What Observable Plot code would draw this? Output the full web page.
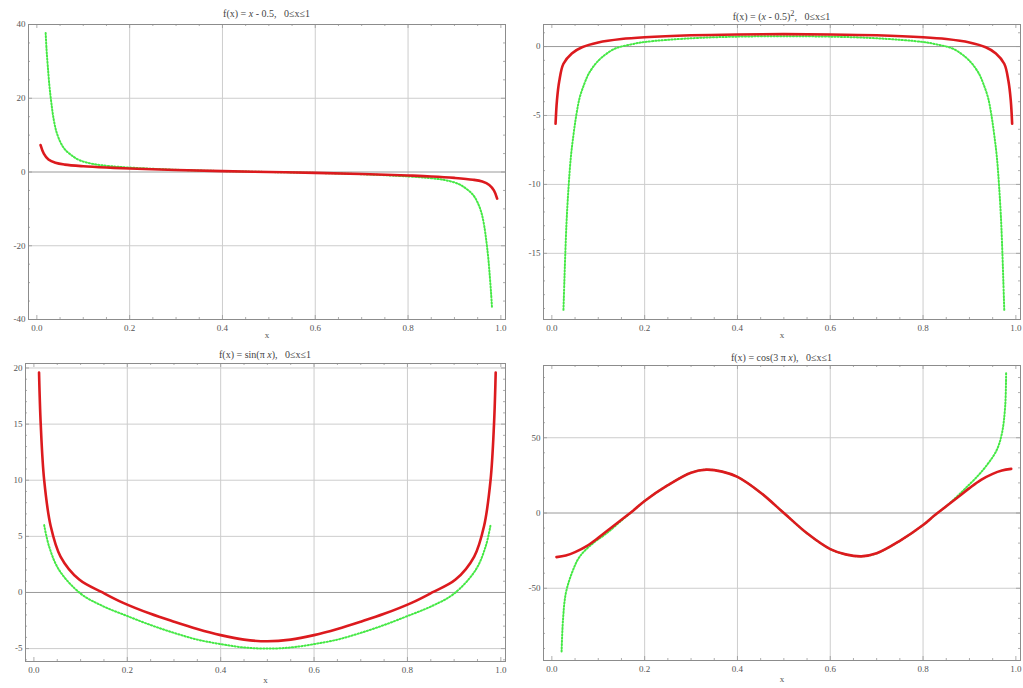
<!DOCTYPE html>
<html><head><meta charset="utf-8">
<script src="https://cdn.jsdelivr.net/npm/d3@7"></script>
<script src="https://cdn.jsdelivr.net/npm/@observablehq/plot@0.6"></script>
<style>
body{margin:0;background:#fff;}
#wrap{position:relative;width:1023px;height:688px;overflow:hidden;}
.panel{position:absolute;}
#wrap svg, #wrap svg text{font-family:"Liberation Serif",serif !important;}
.title{position:absolute;font-family:"Liberation Serif",serif;font-size:10px;color:#444;text-align:center;white-space:pre;line-height:10px;}
</style>
</head><body><div id="wrap"></div>
<script>
// ---- shared axis values ----
const xTicks = [0, 0.2, 0.4, 0.6, 0.8, 1.0];
const xGridLines = [0.2, 0.4, 0.6, 0.8];
const xMinorTicks = [0.05,0.1,0.15,0.25,0.3,0.35,0.45,0.5,0.55,0.65,0.7,0.75,0.85,0.9,0.95];

// ---- panel 1: f(x) = x - 0.5 ----
const p1Title = "f(x) = <i>x</i> - 0.5,   0≤x≤1";
const p1YTicks = [-40, -20, 0, 20, 40];
const p1YMinor = [-35,-30,-25,-15,-10,-5,5,10,15,25,30,35];
const p1RedX = [0.008,0.015,0.025,0.04,0.06,0.1,0.15,0.2,0.3,0.4,0.5,0.6,0.7,0.8,0.85,0.9,0.94,0.96,0.975,0.985,0.992];
const p1RedY = [7.3,5.0,3.4,2.5,2.0,1.55,1.2,0.95,0.55,0.25,0,-0.25,-0.55,-0.95,-1.2,-1.6,-2.1,-2.6,-3.5,-5.0,-7.2];
const p1GreenX = [0.019,0.021,0.024,0.027,0.031,0.036,0.042,0.05,0.06,0.075,0.092,0.12,0.157,0.2,0.3,0.4,0.5,0.6,0.7,0.8,0.843,0.88,0.908,0.925,0.94,0.95,0.958,0.964,0.969,0.973,0.976,0.979,0.981];
const p1GreenY = [37.7,33,28,23.5,19,14.5,11,8.3,6.2,4.5,3.2,2.2,1.6,1.2,0.6,0.25,0,-0.25,-0.6,-1.2,-1.6,-2.2,-3.2,-4.5,-6.2,-8.3,-11,-14.5,-19,-23.5,-28,-33,-37];

// ---- panel 2: f(x) = (x - 0.5)^2 ----
const p2Title = "f(x) = (<i>x</i> - 0.5)<sup>2</sup>,   0≤x≤1";
const p2YTicks = [-15, -10, -5, 0];
const p2YMinor = [-19,-18,-17,-16,-14,-13,-12,-11,-9,-8,-7,-6,-4,-3,-2,-1,1];
const p2RedX = [0.008,0.011,0.016,0.025,0.043,0.065,0.1,0.15,0.2,0.3,0.4,0.5,0.6,0.7,0.8,0.85,0.9,0.935,0.957,0.975,0.984,0.989,0.992];
const p2RedY = [-5.6,-3.9,-2.5,-1.25,-0.5,-0.05,0.3,0.55,0.68,0.82,0.88,0.9,0.88,0.82,0.68,0.55,0.3,-0.05,-0.5,-1.25,-2.5,-3.9,-5.6];
const p2GreenX = [0.025,0.027,0.029,0.032,0.036,0.041,0.047,0.053,0.06,0.07,0.079,0.093,0.108,0.136,0.17,0.2,0.3,0.4,0.5,0.6,0.7,0.8,0.83,0.864,0.892,0.907,0.921,0.93,0.94,0.947,0.953,0.959,0.964,0.968,0.971,0.973,0.975];
const p2GreenY = [-19.1,-17,-15,-12.5,-10.2,-8,-6.3,-4.9,-3.7,-2.7,-2.0,-1.3,-0.78,-0.15,0.15,0.33,0.6,0.72,0.75,0.72,0.6,0.33,0.15,-0.15,-0.78,-1.3,-2.0,-2.7,-3.7,-4.9,-6.3,-8,-10.2,-12.5,-15,-17,-19.1];

// ---- panel 3: f(x) = sin(pi x) ----
const p3Title = "f(x) = sin(π <i>x</i>),   0≤x≤1";
const p3YTicks = [-5, 0, 5, 10, 15, 20];
const p3YMinor = [-6,-4,-3,-2,-1,1,2,3,4,6,7,8,9,11,12,13,14,16,17,18,19];
const p3RedX = [0.011,0.0146,0.022,0.036,0.057,0.097,0.147,0.19,0.25,0.3,0.35,0.4,0.45,0.5,0.55,0.6,0.65,0.7,0.75,0.81,0.853,0.903,0.943,0.964,0.978,0.9854,0.989];
const p3RedY = [19.6,15,10,5.9,3.2,1.15,0,-0.9,-1.9,-2.6,-3.25,-3.8,-4.2,-4.35,-4.2,-3.8,-3.25,-2.6,-1.9,-0.9,0,1.15,3.2,5.9,10,15,19.6];
const p3GreenX = [0.022,0.0325,0.054,0.1,0.147,0.2,0.25,0.3,0.35,0.4,0.45,0.5,0.55,0.6,0.65,0.7,0.75,0.8,0.853,0.9,0.946,0.9675,0.978];
const p3GreenY = [6,4.1,2.0,-0.1,-1.2,-2.1,-2.9,-3.6,-4.2,-4.6,-4.9,-5.0,-4.9,-4.6,-4.2,-3.6,-2.9,-2.1,-1.2,-0.1,2.0,4.1,6];

// ---- panel 4: f(x) = cos(3 pi x) ----
const p4Title = "f(x) = cos(3 π <i>x</i>),   0≤x≤1";
const p4YTicks = [-50, 0, 50];
const p4YMinor = [-90,-80,-70,-60,-40,-30,-20,-10,10,20,30,40,60,70,80,90];
const p4RedX = [0.01,0.03,0.05,0.075,0.1,0.125,0.15,0.175,0.2,0.25,0.3,0.333,0.367,0.4,0.45,0.5,0.55,0.6,0.633,0.667,0.7,0.75,0.8,0.825,0.85,0.875,0.9,0.925,0.95,0.97,0.99];
const p4RedY = [-29.3,-28.2,-26,-22,-16.5,-10.5,-4.5,1.5,8,18.5,26.8,28.8,27.5,24,13.5,0,-13.5,-24,-27.5,-28.8,-26.8,-18.5,-8,-1.5,4.5,10.5,16.5,22,26,28.2,29.3];
const p4GreenX = [0.021,0.024,0.03,0.043,0.06,0.089,0.118,0.15,0.175,0.2,0.25,0.3,0.333,0.367,0.4,0.45,0.5,0.55,0.6,0.633,0.667,0.7,0.75,0.8,0.825,0.85,0.875,0.895,0.916,0.938,0.959,0.97,0.977,0.979];
const p4GreenY = [-92,-71,-53.5,-40,-29,-20,-13.5,-5,1.5,8,18.5,26.8,28.8,27.5,24,13.5,0,-13.5,-24,-27.5,-28.8,-26.8,-18.5,-8,-1.5,4.5,11.5,17.5,24,32,42,53,71,93];

const toRows = (xs, ys) => xs.map((x, i) => ({x, y: ys[i]}));
const xDomain = [-0.018, 1.01];
const serif = "Liberation Serif";

function panel(cfg) {
  const grid = cfg.yTicks.filter(d => d !== 0);
  const fw = cfg.width - cfg.ml - cfg.mr;
  const fh = cfg.height - cfg.mt - cfg.mb;
  const tickStyle = {stroke: "#999", strokeWidth: 0.8};
  const chart = Plot.plot({
    width: cfg.width, height: cfg.height,
    marginTop: cfg.mt, marginBottom: cfg.mb, marginLeft: cfg.ml, marginRight: cfg.mr,
    x: {domain: xDomain},
    y: {domain: cfg.yDomain},
    style: {fontFamily: serif, fontSize: "9px", color: "#555", background: "transparent", overflow: "visible"},
    marks: [
      Plot.gridX(xGridLines, {stroke: "#cdcdcd", strokeOpacity: 1}),
      Plot.gridY(grid, {stroke: "#cdcdcd", strokeOpacity: 1}),
      Plot.ruleY([0], {stroke: "#9a9a9a"}),
      Plot.tickX(xTicks, {x: d => d, insetTop: fh - 4, ...tickStyle}),
      Plot.tickX(xTicks, {x: d => d, insetBottom: fh - 4, ...tickStyle}),
      Plot.tickX(xMinorTicks, {x: d => d, insetTop: fh - 2, ...tickStyle}),
      Plot.tickX(xMinorTicks, {x: d => d, insetBottom: fh - 2, ...tickStyle}),
      Plot.tickY(cfg.yTicks, {y: d => d, insetRight: fw - 4, ...tickStyle}),
      Plot.tickY(cfg.yTicks, {y: d => d, insetLeft: fw - 4, ...tickStyle}),
      Plot.tickY(cfg.yMinor, {y: d => d, insetRight: fw - 2, ...tickStyle}),
      Plot.tickY(cfg.yMinor, {y: d => d, insetLeft: fw - 2, ...tickStyle}),
      Plot.line(toRows(cfg.greenX, cfg.greenY), {x: "x", y: "y", stroke: "#45e845", strokeWidth: 2, strokeDasharray: "1.2,2", curve: "catmull-rom"}),
      Plot.line(toRows(cfg.redX, cfg.redY), {x: "x", y: "y", stroke: "#dc1a1e", strokeWidth: 2.6, curve: "catmull-rom"}),
      Plot.frame({stroke: "#8c8c8c"}),
      Plot.axisX(xTicks, {tickSize: 0, tickPadding: 5, tickFormat: d3.format(".1f"), label: null, fontFamily: serif}),
      Plot.axisY(cfg.yTicks, {tickSize: 0, tickPadding: 3, tickFormat: d => String(d), label: null, fontFamily: serif}),
      Plot.text(["x"], {frameAnchor: "bottom", dy: cfg.xlabDy, fontSize: 9, fill: "#555", fontFamily: serif})
    ]
  });
  chart.classList.add("panel");
  chart.style.left = cfg.left + "px";
  chart.style.top = cfg.top + "px";
  const wrap = document.getElementById("wrap");
  wrap.appendChild(chart);
  const t = document.createElement("div");
  t.className = "title";
  t.innerHTML = cfg.title;
  t.style.left = (cfg.left + cfg.ml) + "px";
  t.style.width = fw + "px";
  t.style.top = cfg.titleTop + "px";
  wrap.appendChild(t);
}

panel({left: 0, top: 0, width: 513, height: 341, mt: 24, mb: 22, ml: 28, mr: 8,
  yDomain: [-40, 40], yTicks: p1YTicks, yMinor: p1YMinor, redX: p1RedX, redY: p1RedY, greenX: p1GreenX, greenY: p1GreenY,
  title: p1Title, titleTop: 9, xlabDy: 18});
panel({left: 515, top: 0, width: 508, height: 341, mt: 24, mb: 22, ml: 28, mr: 3,
  yDomain: [-19.8, 1.6], yTicks: p2YTicks, yMinor: p2YMinor, redX: p2RedX, redY: p2RedY, greenX: p2GreenX, greenY: p2GreenY,
  title: p2Title, titleTop: 9, xlabDy: 18});
panel({left: 0, top: 340, width: 513, height: 348, mt: 23, mb: 27, ml: 25, mr: 8,
  yDomain: [-6.15, 20.4], yTicks: p3YTicks, yMinor: p3YMinor, redX: p3RedX, redY: p3RedY, greenX: p3GreenX, greenY: p3GreenY,
  title: p3Title, titleTop: 350, xlabDy: 21});
panel({left: 515, top: 340, width: 508, height: 348, mt: 25, mb: 28, ml: 28, mr: 3,
  yDomain: [-98, 98], yTicks: p4YTicks, yMinor: p4YMinor, redX: p4RedX, redY: p4RedY, greenX: p4GreenX, greenY: p4GreenY,
  title: p4Title, titleTop: 353, xlabDy: 21});
</script></body></html>
